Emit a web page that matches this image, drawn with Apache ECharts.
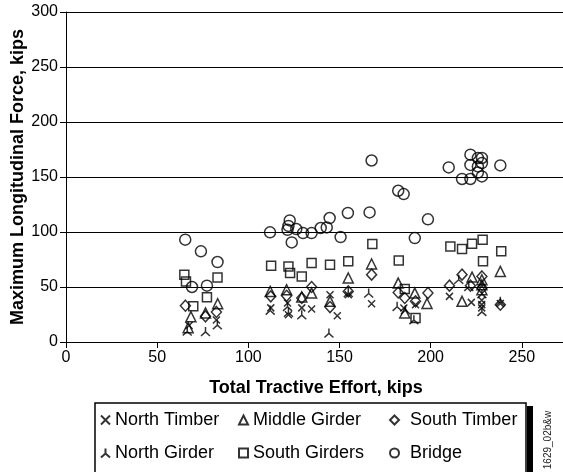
<!DOCTYPE html>
<html>
<head>
<meta charset="utf-8">
<script src="https://cdn.jsdelivr.net/npm/echarts@6/dist/echarts.min.js"></script>
<style>
  html, body { margin: 0; padding: 0; background: #fff; }
  #main { width: 563px; height: 472px; }
</style>
</head>
<body>
<div id="main"></div>
<script>
// [total tractive effort, max longitudinal force] in kips
var northTimber = [
  [67.5, 15], [82.5, 20],
  [112.3, 31], [121.5, 35.4], [122, 24.8], [129.3, 31],
  [134.7, 30], [144.8, 43], [148.8, 23.9], [154.8, 43], [167.6, 34.8], [185.3, 30.9], [191.7, 33.9],
  [210.3, 41.5], [222.3, 36], [228, 38], [228, 34], [228, 31], [238.2, 35]
];
var middleGirder = [
  [67, 13], [68.5, 23], [76.5, 26.4], [83.2, 34.8],
  [112, 46], [121, 47.5], [129.3, 41],
  [134.7, 44.5], [144.8, 37], [154.8, 58.2], [167.6, 70.9], [182.2, 53.6], [185.8, 26.4], [191.3, 44.5], [198, 35],
  [217.2, 37], [222.7, 59], [228.1, 56.6], [228.1, 52], [228.1, 47.5], [238.2, 64.2]
];
var southTimber = [
  [65.5, 33], [76.5, 23.3], [82.5, 27.3],
  [112.3, 41.5], [121, 42], [129.3, 40],
  [134.7, 50], [144.8, 31.8], [154.8, 46], [167.6, 61.2], [182.2, 45], [185.8, 40], [191.7, 37], [198.5, 44.5],
  [210.3, 51.2], [217.2, 61.2], [221.8, 51.2], [228.1, 59.6], [228.1, 49], [238.2, 33.9]
];
var northGirder = [
  [66.5, 10], [76.5, 9.6], [83, 15.7],
  [112, 29], [121.5, 32.4], [122, 27], [129.3, 24.8],
  [144.2, 8.2], [154.8, 45], [166, 44.5], [181.6, 32.4], [186.2, 29.4], [190.8, 20.3],
  [215.4, 57], [220.9, 50.6], [228.1, 27.8], [228.1, 44], [238.2, 37]
];
var southGirders = [
  [64.9, 61.2], [65.8, 55.1], [83.1, 58.7], [77.3, 40.6], [69.8, 32.4],
  [112.5, 69.4], [122, 68.7], [122.9, 62.7], [129.3, 59.5],
  [134.7, 71.8], [144.8, 70.3], [154.8, 73.3], [168, 89], [182.5, 74.2], [185.8, 48.2], [191.7, 21.8],
  [210.8, 86.9], [217.2, 84.5], [222.7, 89.4], [228.5, 93], [228.7, 73.3], [238.7, 82.4]
];
var bridge = [
  [65.4, 93], [74, 82.4], [83.1, 72.7], [69.1, 50], [77.3, 51.2],
  [111.9, 99.7], [122.7, 110.5], [122, 105.5], [121.5, 102], [126.3, 102.7], [123.8, 90.5], [130, 99],
  [134.7, 99], [139.7, 103.6], [143, 104.2], [144.6, 112.7], [150.6, 95.4], [154.6, 117.3], [166.5, 117.8],
  [167.6, 165], [182.2, 137.5], [185.2, 134.5], [191.3, 94.5], [198.5, 111.5],
  [209.9, 158.7], [221.8, 170.3], [217.2, 148.2], [221.8, 148.2], [221.8, 161], [225.9, 167.3],
  [228.1, 167.3], [228.1, 162.7], [225.9, 159.6], [228.1, 150.5], [225.9, 154], [238.2, 160.5]
];

var font = 'Liberation Sans, Arial, sans-serif';
var mark = { color: 'transparent', borderColor: '#000', borderWidth: 1.5 };

function scatter(name, data, symbol, size) {
  return {
    name: name,
    type: 'scatter',
    data: data,
    symbol: symbol,
    symbolSize: size,
    itemStyle: mark,
    emphasis: { disabled: true }
  };
}

function legendItem(name, left, top, pad) {
  return {
    data: [name],
    left: left,
    top: top,
    padding: 0,
    itemWidth: 9,
    itemHeight: 9,
    selectedMode: false,
    textStyle: { fontFamily: font, fontSize: 18, color: '#000', padding: [0, 0, 0, pad || 0] }
  };
}

var myChart = echarts.init(document.getElementById('main'));
var option = {
  animation: false,
  // the x axis runs on past the right edge of the picture (300 is cut off)
  grid: { left: 66, top: 12, right: -50, bottom: 130, outerBoundsMode: 'none' },
  xAxis: {
    type: 'value',
    min: 0,
    max: 300,
    interval: 50,
    axisLine: { lineStyle: { color: '#000', width: 1 } },
    axisTick: { length: 6, lineStyle: { color: '#000' } },
    axisLabel: { fontFamily: font, fontSize: 16, color: '#000', margin: 8 },
    splitLine: { show: false }
  },
  yAxis: {
    type: 'value',
    min: 0,
    max: 300,
    interval: 50,
    axisLine: { show: true, lineStyle: { color: '#000', width: 1 } },
    axisTick: { show: true, length: 6, lineStyle: { color: '#000' } },
    axisLabel: { fontFamily: font, fontSize: 16, color: '#000', margin: 8 },
    splitLine: { lineStyle: { color: '#000', width: 1 } }
  },
  legend: [
    legendItem('North Timber', 100, 411),
    legendItem('Middle Girder', 238, 411),
    legendItem('South Timber', 389, 411, 6),
    legendItem('North Girder', 100, 444),
    legendItem('South Girders', 238, 444),
    legendItem('Bridge', 389, 444, 6)
  ],
  graphic: [
    { type: 'rect', shape: { x: 95, y: 403, width: 431, height: 90 }, style: { fill: '#fff', stroke: '#000', lineWidth: 1.5 }, z: -10 },
    { type: 'rect', shape: { x: 527, y: 406, width: 6, height: 80 }, style: { fill: '#000' }, z: -10 },
    {
      type: 'text', x: 18, y: 177, rotation: Math.PI / 2,
      style: { text: 'Maximum Longitudinal Force, kips', font: 'bold 18px ' + font, fill: '#000', textAlign: 'center', textVerticalAlign: 'middle' }
    },
    {
      type: 'text', x: 316, y: 388,
      style: { text: 'Total Tractive Effort, kips', font: 'bold 18px ' + font, fill: '#000', textAlign: 'center', textVerticalAlign: 'middle' }
    },
    {
      type: 'text', x: 548, y: 440, rotation: Math.PI / 2,
      style: { text: '1629_02b&w', font: '10px ' + font, fill: '#222', textAlign: 'center', textVerticalAlign: 'middle' }
    }
  ],
  series: [
    scatter('North Timber', northTimber, 'path://M0,0L10,10M10,0L0,10', 7),
    scatter('Middle Girder', middleGirder, 'triangle', 10),
    scatter('South Timber', southTimber, 'diamond', [10, 11]),
    scatter('North Girder', northGirder, 'path://M5,0L5,5.5M5,5.5L0,10M5,5.5L10,10', 9),
    scatter('South Girders', southGirders, 'rect', 9),
    scatter('Bridge', bridge, 'circle', 11)
  ]
};
option && myChart.setOption(option);
</script>
</body>
</html>
